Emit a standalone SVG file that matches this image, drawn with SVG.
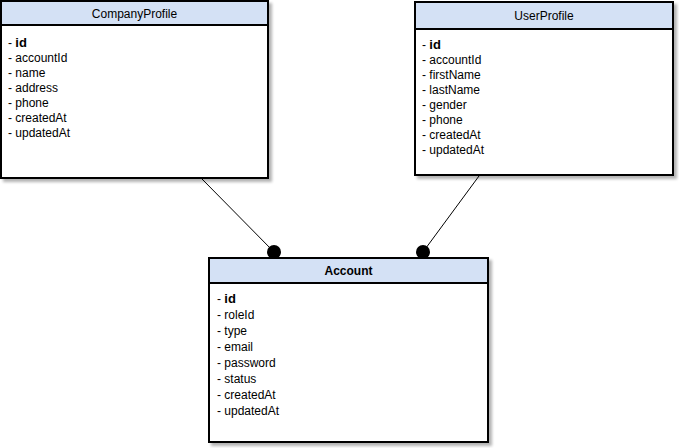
<svg xmlns="http://www.w3.org/2000/svg" width="679" height="448" viewBox="0 0 679 448">
<style>
.box{fill:#ffffff;stroke:#000000;stroke-width:2}
.hdr{fill:#d4e1f5;stroke:#000000;stroke-width:2}
.title{font-family:"Liberation Sans",Arial,sans-serif;font-size:12px;fill:#000000;text-anchor:middle}
.attr{font-family:"Liberation Sans",Arial,sans-serif;font-size:12px;fill:#000000}
.pk{font-weight:bold;font-size:13px}
.conn{stroke:#000000;stroke-width:1;fill:none}
.dot{fill:#000000}
</style>
<defs>
<filter id="sh" x="-10%" y="-10%" width="130%" height="130%">
<feGaussianBlur in="SourceAlpha" stdDeviation="1.6"/>
<feOffset dx="3" dy="3" result="b"/>
<feComponentTransfer><feFuncA type="linear" slope="0.3"/></feComponentTransfer>
<feMerge><feMergeNode/><feMergeNode in="SourceGraphic"/></feMerge>
</filter>
</defs>
<g id="connectors">
<line class="conn" x1="202" y1="179" x2="274" y2="252"/>
<circle class="dot" cx="274" cy="252" r="7"/>
<line class="conn" x1="479" y1="176" x2="423" y2="252"/>
<circle class="dot" cx="423" cy="252" r="7"/>
</g>
<g id="CompanyProfile">
<g filter="url(#sh)">
<rect class="box" x="1" y="1" width="267" height="177"/>
</g>
<rect class="hdr" x="1" y="1" width="267" height="24"/>
<text class="title" x="134.5" y="17.5">CompanyProfile</text>
<text class="attr" x="8" y="47">- <tspan class="pk">id</tspan></text>
<text class="attr" x="8" y="62">- accountId</text>
<text class="attr" x="8" y="77">- name</text>
<text class="attr" x="8" y="92">- address</text>
<text class="attr" x="8" y="107">- phone</text>
<text class="attr" x="8" y="122">- createdAt</text>
<text class="attr" x="8" y="137">- updatedAt</text>
</g>
<g id="UserProfile">
<g filter="url(#sh)">
<rect class="box" x="415" y="2" width="258" height="173"/>
</g>
<rect class="hdr" x="415" y="2" width="258" height="27"/>
<text class="title" x="544" y="20">UserProfile</text>
<text class="attr" x="422" y="49">- <tspan class="pk">id</tspan></text>
<text class="attr" x="422" y="64">- accountId</text>
<text class="attr" x="422" y="79">- firstName</text>
<text class="attr" x="422" y="94">- lastName</text>
<text class="attr" x="422" y="109">- gender</text>
<text class="attr" x="422" y="124">- phone</text>
<text class="attr" x="422" y="139">- createdAt</text>
<text class="attr" x="422" y="154">- updatedAt</text>
</g>
<g id="Account">
<g filter="url(#sh)">
<rect class="box" x="209" y="258" width="279" height="184"/>
</g>
<rect class="hdr" x="209" y="258" width="279" height="25"/>
<text class="title" x="348.5" y="275" font-weight="bold">Account</text>
<text class="attr" x="217" y="303">- <tspan class="pk">id</tspan></text>
<text class="attr" x="217" y="319">- roleId</text>
<text class="attr" x="217" y="335">- type</text>
<text class="attr" x="217" y="351">- email</text>
<text class="attr" x="217" y="367">- password</text>
<text class="attr" x="217" y="383">- status</text>
<text class="attr" x="217" y="399">- createdAt</text>
<text class="attr" x="217" y="415">- updatedAt</text>
</g>
</svg>
